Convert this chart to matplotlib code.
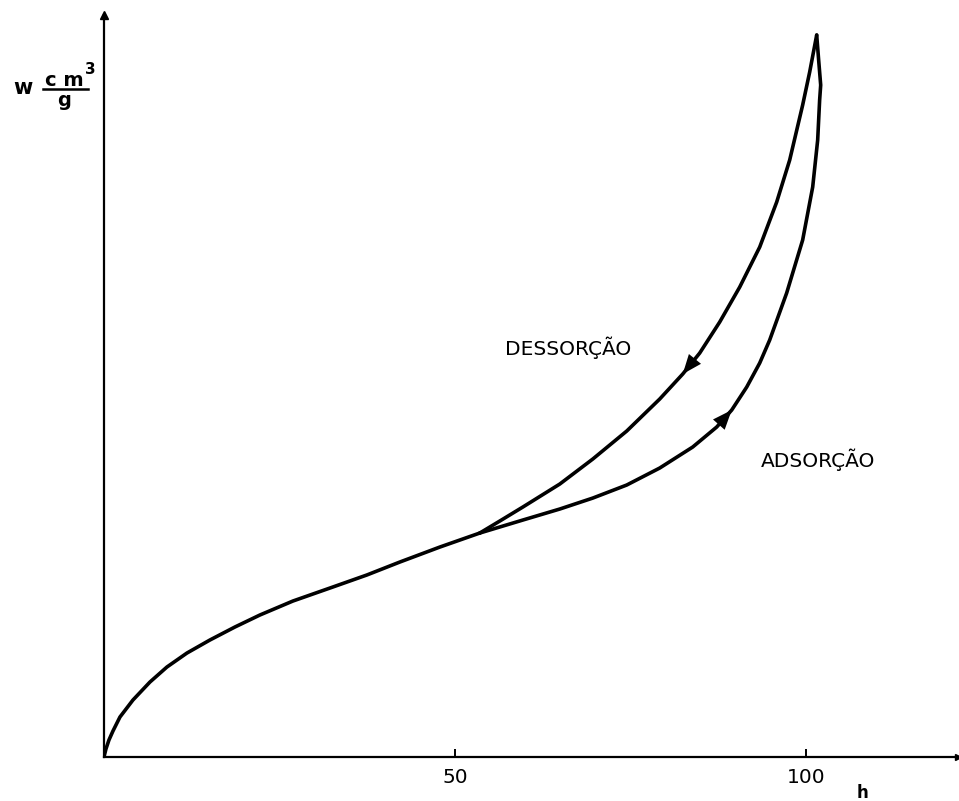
"""Sorption isotherm with hysteresis loop: adsorption vs. desorption branches."""

import matplotlib
matplotlib.use("Agg")
import matplotlib.pyplot as plt


# shared low-humidity branch (h, w)
common_h = [0.0, 0.28, 0.71, 1.28, 2.28, 4.13, 6.55, 8.97, 11.82, 15.10,
            18.66, 22.22, 26.92, 32.62, 37.46, 42.17, 47.86, 53.56]
common_w = [0.0, 1.14, 2.42, 3.70, 5.70, 8.12, 10.68, 12.82, 14.81, 16.67,
            18.52, 20.23, 22.22, 24.22, 25.93, 27.78, 29.91, 31.91]

# desorption branch, from the junction up to the top of the loop
des_h = [53.56, 56.41, 59.69, 64.96, 69.66, 74.50, 79.20, 82.48, 84.90,
         87.75, 90.60, 93.45, 95.87, 97.72, 99.57, 100.57, 101.57]
des_w = [31.91, 33.62, 35.61, 38.89, 42.45, 46.44, 51.00, 54.56, 57.55,
         61.97, 66.95, 72.65, 79.06, 85.04, 92.88, 97.58, 102.85]

# adsorption branch, from the junction up to the top of the loop
ads_h = [53.56, 59.69, 64.96, 69.66, 74.50, 79.20, 83.90, 87.32, 89.46,
         91.60, 93.45, 94.87, 97.29, 99.57, 101.00, 101.71, 101.99, 102.14,
         101.85, 101.57]
ads_w = [31.91, 33.76, 35.33, 36.89, 38.75, 41.17, 44.16, 47.01, 49.43,
         52.71, 56.13, 59.40, 66.10, 73.65, 81.20, 87.89, 93.59, 95.73,
         99.29, 102.85]

x_ticks = [50, 100]
x_max = 121.7
y_max = 105.7

fig = plt.figure(figsize=(9.59, 8.01), dpi=100)
ax = fig.add_axes([0.1084, 0.0549, 0.8905, 0.9263])

line_kw = dict(color="black", lw=2.6, solid_capstyle="round", solid_joinstyle="round")
ax.plot(common_h, common_w, **line_kw)
ax.plot(des_h, des_w, **line_kw)
ax.plot(ads_h, ads_w, **line_kw)

# direction arrows on each branch
head = dict(arrowstyle="-|>,head_length=0.7,head_width=0.28", mutation_scale=20,
            lw=0, color="black", shrinkA=0, shrinkB=0)
ax.annotate("", xy=(des_h[7], des_w[7]), xytext=(des_h[8], des_w[8]),
            arrowprops=head)
ax.annotate("", xy=(ads_h[8], ads_w[8]), xytext=(ads_h[7], ads_w[7]),
            arrowprops=head)

ax.set_xlim(0, x_max)
ax.set_ylim(0, y_max)
for side in ("top", "right"):
    ax.spines[side].set_visible(False)
for side in ("left", "bottom"):
    ax.spines[side].set_linewidth(1.6)

ax.set_xticks(x_ticks)
ax.set_xticklabels([str(t) for t in x_ticks], fontsize=14.5)
ax.set_yticks([])
ax.tick_params(axis="x", direction="in", length=6, width=1.4, pad=8)

# axis arrowheads
ax.plot(1, 0, ">k", transform=ax.transAxes, clip_on=False, ms=5)
ax.plot(0, 1, "^k", transform=ax.transAxes, clip_on=False, ms=6)

ax.text(66.1, 58.3, "DESSORÇÃO", fontsize=14.5, ha="center", va="center")
ax.text(101.7, 42.3, "ADSORÇÃO", fontsize=14.5, ha="center", va="center")

# axis names
W, H = 959, 801


def px(x, y):
    return x / W, 1 - y / H


fig.text(*px(23, 88), "w", fontsize=15, fontweight="bold", ha="center", va="center")
fig.text(*px(64, 80), "c m", fontsize=14, fontweight="bold", ha="center", va="center")
fig.text(*px(90, 70), "3", fontsize=11, fontweight="bold", ha="center", va="center")
fig.text(*px(64, 100), "g", fontsize=14, fontweight="bold", ha="center", va="center")
fig.add_artist(plt.Line2D([43 / W, 88 / W], [1 - 89 / H, 1 - 89 / H],
                          color="black", lw=1.8))
fig.text(*px(863, 793), "h", fontsize=12, fontweight="bold", ha="center", va="center")

fig.savefig("out.png", dpi=100)
